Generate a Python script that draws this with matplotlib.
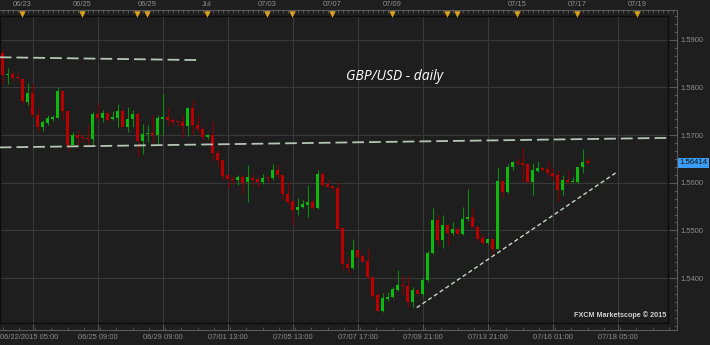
import matplotlib
matplotlib.use("Agg")
import matplotlib.pyplot as plt
from matplotlib.ticker import MultipleLocator, AutoMinorLocator

# 4h candles GBP/USD
opens = [1.5871, 1.5826, 1.5828, 1.5822, 1.5817, 1.5769, 1.5788, 1.5743, 1.5717, 1.5726,
         1.5733, 1.5736, 1.5792, 1.5750, 1.5680, 1.5701, 1.5696, 1.5694, 1.5691, 1.5744,
         1.5735, 1.5746, 1.5733, 1.5736, 1.5750, 1.5717, 1.5733, 1.5745, 1.5687, 1.5702,
         1.5704, 1.5701, 1.5733, 1.5737, 1.5732, 1.5729, 1.5727, 1.5719, 1.5756, 1.5722,
         1.5712, 1.5695, 1.5700, 1.5662, 1.5647, 1.5616, 1.5608, 1.5605, 1.5613, 1.5601,
         1.5610, 1.5607, 1.5601, 1.5611, 1.5610, 1.5626, 1.5617, 1.5577, 1.5561, 1.5542,
         1.5549, 1.5554, 1.5559, 1.5548, 1.5619, 1.5597, 1.5594, 1.5589, 1.5505, 1.5429,
         1.5422, 1.5459, 1.5446, 1.5435, 1.5403, 1.5364, 1.5331, 1.5357, 1.5360, 1.5376,
         1.5385, 1.5383, 1.5349, 1.5376, 1.5367, 1.5396, 1.5453, 1.5521, 1.5479, 1.5511,
         1.5495, 1.5504, 1.5493, 1.5523, 1.5529, 1.5507, 1.5484, 1.5474, 1.5481, 1.5462,
         1.5604, 1.5580, 1.5633, 1.5643, 1.5642, 1.5639, 1.5601, 1.5625, 1.5631, 1.5628,
         1.5621, 1.5616, 1.5584, 1.5605, 1.5601, 1.5601, 1.5632, 1.5645]
highs = [1.5878, 1.5841, 1.5835, 1.5829, 1.5819, 1.5810, 1.5808, 1.5757, 1.5731, 1.5742,
         1.5742, 1.5801, 1.5794, 1.5750, 1.5706, 1.5710, 1.5703, 1.5723, 1.5748, 1.5768,
         1.5752, 1.5748, 1.5750, 1.5764, 1.5754, 1.5759, 1.5752, 1.5748, 1.5724, 1.5721,
         1.5742, 1.5742, 1.5787, 1.5759, 1.5736, 1.5731, 1.5743, 1.5759, 1.5773, 1.5742,
         1.5717, 1.5703, 1.5729, 1.5668, 1.5647, 1.5619, 1.5614, 1.5616, 1.5616, 1.5637,
         1.5619, 1.5612, 1.5619, 1.5614, 1.5640, 1.5640, 1.5617, 1.5601, 1.5561, 1.5569,
         1.5563, 1.5595, 1.5565, 1.5626, 1.5622, 1.5607, 1.5594, 1.5601, 1.5505, 1.5444,
         1.5483, 1.5459, 1.5451, 1.5463, 1.5403, 1.5373, 1.5368, 1.5370, 1.5382, 1.5416,
         1.5406, 1.5406, 1.5382, 1.5378, 1.5403, 1.5457, 1.5547, 1.5532, 1.5532, 1.5514,
         1.5517, 1.5507, 1.5549, 1.5586, 1.5546, 1.5507, 1.5493, 1.5484, 1.5481, 1.5633,
         1.5605, 1.5640, 1.5645, 1.5651, 1.5672, 1.5639, 1.5642, 1.5645, 1.5633, 1.5646,
         1.5630, 1.5626, 1.5616, 1.5626, 1.5612, 1.5633, 1.5670, 1.5651]
lows = [1.5806, 1.5807, 1.5813, 1.5813, 1.5764, 1.5763, 1.5738, 1.5708, 1.5708, 1.5721,
        1.5729, 1.5735, 1.5731, 1.5666, 1.5679, 1.5679, 1.5685, 1.5676, 1.5680, 1.5731,
        1.5727, 1.5730, 1.5731, 1.5717, 1.5716, 1.5706, 1.5717, 1.5654, 1.5661, 1.5685,
        1.5684, 1.5682, 1.5700, 1.5722, 1.5722, 1.5719, 1.5693, 1.5698, 1.5701, 1.5706,
        1.5689, 1.5691, 1.5645, 1.5633, 1.5605, 1.5588, 1.5598, 1.5596, 1.5579, 1.5559,
        1.5596, 1.5591, 1.5598, 1.5601, 1.5605, 1.5609, 1.5563, 1.5554, 1.5511, 1.5532,
        1.5546, 1.5529, 1.5544, 1.5544, 1.5592, 1.5590, 1.5582, 1.5504, 1.5418, 1.5410,
        1.5420, 1.5444, 1.5433, 1.5396, 1.5359, 1.5328, 1.5328, 1.5353, 1.5359, 1.5373,
        1.5364, 1.5340, 1.5340, 1.5366, 1.5363, 1.5391, 1.5451, 1.5470, 1.5463, 1.5470,
        1.5490, 1.5491, 1.5491, 1.5519, 1.5505, 1.5479, 1.5472, 1.5472, 1.5449, 1.5460,
        1.5570, 1.5579, 1.5626, 1.5637, 1.5601, 1.5600, 1.5575, 1.5622, 1.5624, 1.5614,
        1.5605, 1.5559, 1.5575, 1.5600, 1.5601, 1.5600, 1.5621, 1.5638]
closes = [1.5826, 1.5828, 1.5820, 1.5819, 1.5771, 1.5789, 1.5742, 1.5717, 1.5727, 1.5735,
          1.5738, 1.5792, 1.5750, 1.5680, 1.5700, 1.5694, 1.5693, 1.5692, 1.5744, 1.5735,
          1.5746, 1.5732, 1.5738, 1.5750, 1.5717, 1.5733, 1.5745, 1.5687, 1.5703, 1.5703,
          1.5701, 1.5735, 1.5737, 1.5731, 1.5727, 1.5727, 1.5719, 1.5756, 1.5722, 1.5712,
          1.5696, 1.5700, 1.5662, 1.5647, 1.5614, 1.5607, 1.5605, 1.5613, 1.5600, 1.5611,
          1.5605, 1.5601, 1.5610, 1.5610, 1.5626, 1.5617, 1.5577, 1.5559, 1.5542, 1.5550,
          1.5556, 1.5559, 1.5548, 1.5619, 1.5595, 1.5592, 1.5588, 1.5504, 1.5429, 1.5422,
          1.5458, 1.5445, 1.5433, 1.5403, 1.5362, 1.5331, 1.5358, 1.5361, 1.5378, 1.5385,
          1.5383, 1.5349, 1.5376, 1.5367, 1.5397, 1.5452, 1.5521, 1.5479, 1.5511, 1.5495,
          1.5504, 1.5493, 1.5523, 1.5529, 1.5507, 1.5483, 1.5474, 1.5481, 1.5462, 1.5604,
          1.5580, 1.5633, 1.5643, 1.5641, 1.5638, 1.5601, 1.5626, 1.5631, 1.5626, 1.5621,
          1.5614, 1.5584, 1.5605, 1.5601, 1.5603, 1.5632, 1.5643, 1.5641]

bottom_ticks = [6, 19, 32, 45, 58, 71, 84, 97, 110, 123]
bottom_labels = ["06/22/2015 05:00", "06/25 09:00", "06/29 09:00", "07/01 13:00", "07/05 13:00",
                 "07/07 17:00", "07/09 21:00", "07/13 21:00", "07/16 01:00", "07/18 05:00"]
top_ticks = [3.9, 15.9, 28.9, 40.9, 52.9, 65.9, 77.8, 102.9, 114.9, 126.9]
top_labels = ["06/23", "06/25", "06/29", "Jul", "07/03", "07/07", "07/09", "07/15", "07/17", "07/19"]
event_marks = [3.9, 15.9, 26.9, 28.9, 40.9, 52.9, 57.9, 65.9, 77.8, 88.9, 90.9, 102.9, 114.9, 126.9]
price_ticks = [1.54, 1.55, 1.56, 1.57, 1.58, 1.59]
last_price = 1.56414

# drawn lines (start, end)
resist_x = [-0.6, 39.3]
resist_y = [1.5863, 1.5857]
mid_x = [-0.6, 133.1]
mid_y = [1.5674, 1.5694]
trend_x = [82.8, 122.8]
trend_y = [1.5338, 1.5622]

bg = '#1e1e1e'
W, H = 710, 345


def box(l, t, r, b):
    return [l / W, 1 - b / H, (r - l) / W, (b - t) / H]


fig = plt.figure(figsize=(7.1, 3.45), dpi=100, facecolor=bg)
frame = fig.add_axes(box(0, 10, 677, 330))
ax = fig.add_axes(box(0, 16, 668, 323))

xlo, xhi = -0.54, 133.06
ylo, yhi = 1.53059, 1.59495
sx = (xhi - xlo) / 668
sy = (yhi - ylo) / 307
ax.set_xlim(xlo, xhi)
ax.set_ylim(ylo, yhi)
frame.set_xlim(xlo, xlo + 677 * sx)
frame.set_ylim(ylo - 7 * sy, yhi + 6 * sy)

# outer frame with time / price bars
frame.set_facecolor(bg)
for s in ['top', 'right', 'bottom']:
    frame.spines[s].set_color('#5a5a5a')
    frame.spines[s].set_linewidth(0.8)
frame.spines['left'].set_visible(False)
lab_font = dict(family='Liberation Sans', size=5.4)
frame.set_xticks(bottom_ticks)
# first label sits flush with the left edge, drawn separately
frame.set_xticklabels([''] + bottom_labels[1:], color='#8e8e8e', **lab_font)
frame.text(xlo + 0.1, -0.0125, bottom_labels[0], transform=frame.get_xaxis_transform(),
           ha='left', va='top', color='#8e8e8e', **lab_font)
frame.xaxis.set_minor_locator(MultipleLocator(3.25))
frame.tick_params(axis='x', which='major', direction='in', length=5, width=0.7, color='#5a5a5a', pad=3)
frame.tick_params(axis='x', which='minor', direction='in', length=2, width=0.6, color='#5a5a5a')
frame.yaxis.tick_right()
frame.set_yticks(price_ticks)
frame.set_yticklabels(['%.4f' % p for p in price_ticks], color='#8e8e8e', **lab_font)
frame.yaxis.set_minor_locator(AutoMinorLocator(6))
frame.tick_params(axis='y', which='major', direction='in', length=6.5, width=0.7, color='#5a5a5a', pad=2.5)
frame.tick_params(axis='y', which='minor', direction='in', length=2, width=0.6, color='#5a5a5a')

top = frame.twiny()
top.set_xlim(frame.get_xlim())
top.set_xticks(top_ticks)
top.set_xticklabels(top_labels, color='#8e8e8e', **lab_font)
top.xaxis.set_minor_locator(MultipleLocator(1))
top.tick_params(axis='x', which='major', direction='in', length=2.5, width=0.6, color='#6a6a6a', pad=1.5)
top.tick_params(axis='x', which='minor', direction='in', length=2, width=0.6, color='#5a5a5a')
for s in top.spines.values():
    s.set_visible(False)
top.scatter(event_marks, [0.988] * len(event_marks), marker='v', s=22, color='#d8a21f',
            transform=top.get_xaxis_transform(), clip_on=False, zorder=5, linewidths=0)

frame.text(1.004, last_price, '%.5f' % last_price, transform=frame.get_yaxis_transform(),
           ha='left', va='center', color='#101010', family='Liberation Sans', size=5.6,
           bbox=dict(boxstyle='square,pad=0.18', fc='#3a9cf5', ec='none'))

# main plot area
ax.set_facecolor(bg)
for s in ax.spines.values():
    s.set_color('#0c0c0c')
    s.set_linewidth(1)
ax.set_xticks(bottom_ticks)
ax.set_yticks(price_ticks)
ax.tick_params(length=0, labelbottom=False, labelleft=False)
ax.grid(True, color='#393939', linewidth=0.8)
ax.set_axisbelow(True)

n = len(opens)
xs = list(range(n))
up = [c >= o for o, c in zip(opens, closes)]
wick_cols = ['#0c8a0c' if u else '#8a0000' for u in up]
body_cols = ['#0fb80f' if u else '#b80000' for u in up]
ax.vlines(xs, lows, highs, colors=wick_cols, linewidth=0.8, zorder=3)
heights = [max(abs(c - o), 0.00012) for o, c in zip(opens, closes)]
bottoms = [min(o, c) for o, c in zip(opens, closes)]
ax.bar(xs, heights, bottom=bottoms, width=0.7, color=body_cols, linewidth=0, zorder=4)

ax.plot(resist_x, resist_y, color='#b4c6b4', linewidth=1.3, dashes=(6.5, 2.8), zorder=5)
ax.plot(mid_x, mid_y, color='#b4c6b4', linewidth=1.3, dashes=(6.5, 2.8), zorder=5)
ax.plot(trend_x, trend_y, color='#c6d6c6', linewidth=1.0, dashes=(3, 2), zorder=5)

ax.text(78.4, 1.5822, 'GBP/USD - daily', color='white', family='Open Sans', style='italic',
        size=10, ha='center', va='center')
ax.text(0.998, 0.012, 'FXCM Marketscope \u00a9 2015', transform=ax.transAxes, ha='right', va='bottom',
        color='#d0d0d0', family='Liberation Sans', weight='bold', size=5.2)

fig.savefig('out.png', dpi=100, facecolor=bg)
